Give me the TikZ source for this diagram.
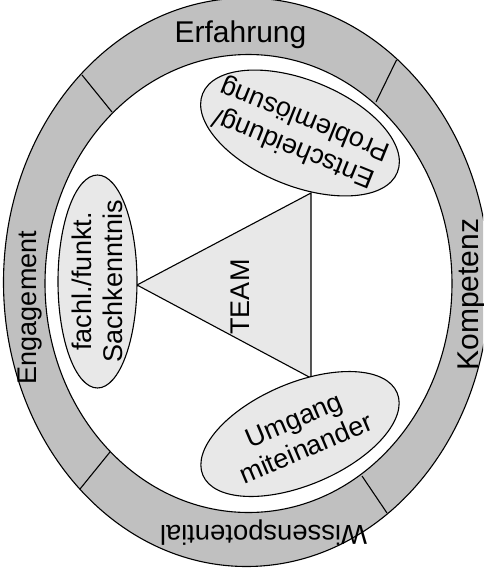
\documentclass[tikz,border=0pt]{standalone}
\usepackage{fontspec}
\setmainfont{Liberation Sans}
\usetikzlibrary{shapes.geometric}
\definecolor{ringgray}{HTML}{C0C0C0}
\definecolor{lightfill}{HTML}{E8E8E8}
\tikzset{
  outline/.style={draw=black, line width=1.1pt},
  bubble/.style={outline, ellipse, fill=lightfill, inner sep=0pt},
  ringlabel/.style={inner sep=0pt, anchor=base},
  bubbletext/.style={inner sep=0pt, align=center, font=\fontsize{27}{31}\selectfont},
}
\begin{document}
\begin{tikzpicture}[x=1pt,y=-1pt]
\useasboundingbox (0,0) rectangle (483,574);
% ring
\begin{scope}
\clip (0,0) rectangle (483,574);
\node[outline, ellipse, fill=ringgray, inner sep=0pt, minimum width=486pt, minimum height=568.5pt] (outer) at (246.5,282.25) {};
\end{scope}
\node[outline, ellipse, fill=white, inner sep=0pt, minimum width=407pt, minimum height=458pt] (inner) at (248.5,283.5) {};
% dividers
\coordinate (d1o) at (82,75);   \coordinate (d1i) at (112,112);
\coordinate (d2o) at (396.5,60); \coordinate (d2i) at (376,102);
\coordinate (d3o) at (80,489);  \coordinate (d3i) at (110,452);
\coordinate (d4o) at (387,513); \coordinate (d4i) at (362,476);
\draw[outline] (d1o) -- (d1i);
\draw[outline] (d2o) -- (d2i);
\draw[outline] (d3o) -- (d3i);
\draw[outline] (d4o) -- (d4i);
% ring labels
\node[ringlabel, font=\fontsize{30}{36}\selectfont] (erf) at (240.5,42) {Erfahrung};
\node[ringlabel, rotate=90, font=\fontsize{27}{32}\selectfont] (eng) at (37,307.5) {Engagement};
\node[ringlabel, rotate=90, font=\fontsize{30}{36}\selectfont] (kom) at (478,294.5) {Kompetenz};
\node[ringlabel, rotate=180, font=\fontsize{27.4}{32}\selectfont] (wis) at (263.5,525) {Wissenspotential};
% triangle
\coordinate (tt) at (311,193);
\coordinate (tl) at (137,285);
\coordinate (tb) at (311,378);
\draw[outline, fill=lightfill] (tt) -- (tl) -- (tb) -- cycle;
\node[inner sep=0pt, rotate=90, font=\fontsize{27}{32}\selectfont] (team) at (240.5,297) {TEAM};
% bubbles
\node[bubble, rotate=158, minimum width=210pt, minimum height=106pt] (ent) at (300,133) {};
\node[bubbletext, rotate=158] (entt) at (ent.center) {Entscheidung/\\Problemlösung};
\node[bubble, rotate=23, minimum width=211pt, minimum height=102pt] (umg) at (300,434) {};
\node[bubbletext, rotate=23] (umgt) at (umg.center) {Umgang\\miteinander};
\node[bubble, rotate=90, minimum width=213pt, minimum height=79pt] (fach) at (97.5,281.5) {};
\node[bubbletext, rotate=90] (facht) at (fach.center) {fachl./funkt.\\Sachkenntnis};
\end{tikzpicture}
\end{document}
